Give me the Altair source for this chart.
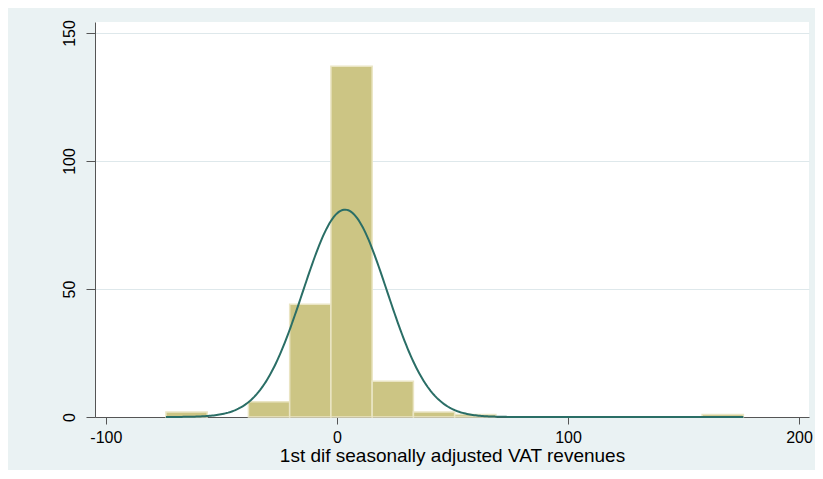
import altair as alt
import numpy as np
import pandas as pd

# Histogram bins (left edges) and frequencies
bin_width = 17.85
bin_left = [-74.0, -56.15, -38.3, -20.45, -2.6, 15.25, 33.1, 50.95,
            68.8, 86.65, 104.5, 122.35, 140.2, 158.05]
freq = [2, 0, 6, 44, 137, 14, 2, 1, 0, 0, 0, 0, 0, 1]

# Fitted normal curve parameters
n_obs = 207
mu = 3.5
sd = 18.2

x_ticks = [-100, 0, 100, 200]
y_ticks = [0, 50, 100, 150]
x_title = "1st dif seasonally adjusted VAT revenues"

bars = pd.DataFrame({
    "x0": bin_left,
    "x1": [b + bin_width for b in bin_left],
    "freq": freq,
})
bars["base"] = 0
bars = bars[bars["freq"] > 0]

xs = np.linspace(bin_left[0], bin_left[-1] + bin_width, 400)
ys = n_obs * bin_width * np.exp(-0.5 * ((xs - mu) / sd) ** 2) / (sd * np.sqrt(2 * np.pi))
curve = pd.DataFrame({"x": xs, "y": ys})

FONT = "Liberation Sans"
xscale = alt.Scale(domain=[-104.7, 204.3], nice=False, zero=False)
yscale = alt.Scale(domain=[0, 154.3], nice=False, zero=False)

bar_layer = alt.Chart(bars).mark_rect(
    color="#CCC584", stroke="#EAE5C4", strokeWidth=1.5
).encode(
    x=alt.X("x0:Q", scale=xscale, axis=alt.Axis(
        values=x_ticks, grid=False, title=x_title, tickSize=7,
        labelFontSize=16, titleFontSize=19, titleFontWeight="normal",
        labelPadding=5, titlePadding=1, domainColor="#555555",
        tickColor="#555555", labelColor="#000000", titleColor="#000000",
        labelFont=FONT, titleFont=FONT, labelExpr="replace(datum.label, '−', '-')")),
    x2="x1:Q",
    y=alt.Y("freq:Q", scale=yscale, axis=alt.Axis(
        values=y_ticks, grid=True, gridColor="#DEE8EB", title=None,
        tickSize=9, labelFontSize=16, labelAngle=-90, labelAlign="center",
        labelBaseline="bottom", labelPadding=9, domainColor="#555555",
        tickColor="#555555", labelColor="#000000", labelFont=FONT)),
    y2="base:Q",
)

line_layer = alt.Chart(curve).mark_line(
    color="#2A6E66", strokeWidth=2
).encode(
    x=alt.X("x:Q", scale=xscale),
    y=alt.Y("y:Q", scale=yscale),
)

chart = alt.layer(bar_layer, line_layer).properties(
    width=714, height=395,
    autosize=alt.AutoSizeParams(type="none"),
    padding={"left": 87, "top": 14, "right": 6, "bottom": 53},
    background="#EAF2F3",
).configure_view(fill="white", stroke=None)

chart.save("out.html", embed_options={"renderer": "svg", "actions": False})
